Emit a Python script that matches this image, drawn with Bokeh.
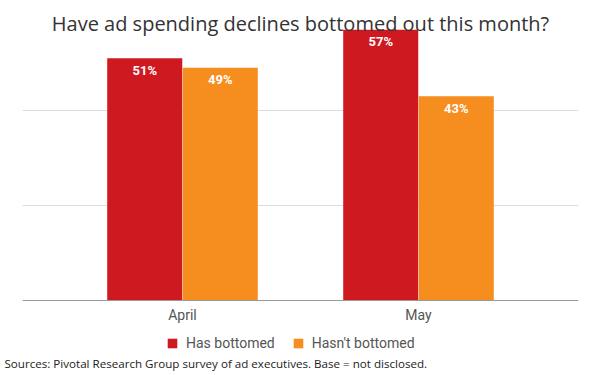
from bokeh.plotting import figure
from bokeh.models import ColumnDataSource, FactorRange, Range1d, FixedTicker, Title, Legend, LegendItem, Label
from bokeh.transform import dodge
from bokeh.core.properties import value
from bokeh.embed import file_html
from bokeh.resources import INLINE

months = ["April", "May"]
has_bottomed = [51, 57]
hasnt_bottomed = [49, 43]
series_names = ["Has bottomed", "Hasn't bottomed"]
colors = ["#cf1920", "#f58d1f"]
title_text = "Have ad spending declines bottomed out this month?"
source_text = "Sources: Pivotal Research Group survey of ad executives. Base = not disclosed."

src = ColumnDataSource(dict(
    month=months,
    has=has_bottomed,
    hasnt=hasnt_bottomed,
    has_lbl=[f"{v}%" for v in has_bottomed],
    hasnt_lbl=[f"{v}%" for v in hasnt_bottomed],
))

# frame: x 22..578, y 0..352 ; baseline (0) at y=300, 4.75 px per percent
p = figure(width=600, height=375, output_backend="svg", toolbar_location=None,
           x_range=FactorRange(factors=months, range_padding=0.178, range_padding_units="absolute"),
           y_range=Range1d(-10.95, 63.16),
           min_border_left=22, min_border_right=22, min_border_top=0, min_border_bottom=23)
p.outline_line_color = None
p.background_fill_color = "white"
p.border_fill_color = "white"

bw = 0.318
r1 = p.vbar(x=dodge("month", -0.16, range=p.x_range), top="has", width=bw, source=src,
            fill_color=colors[0], line_color=None)
r2 = p.vbar(x=dodge("month", 0.16, range=p.x_range), top="hasnt", width=bw, source=src,
            fill_color=colors[1], line_color=None)

p.text(x=dodge("month", -0.16, range=p.x_range), y="has", text="has_lbl", source=src,
       text_align="center", text_baseline="middle", y_offset=12, text_color="white",
       text_font=value("Roboto"), text_font_size="13px", text_font_style="bold")
p.text(x=dodge("month", 0.16, range=p.x_range), y="hasnt", text="hasnt_lbl", source=src,
       text_align="center", text_baseline="middle", y_offset=12, text_color="white",
       text_font=value("Roboto"), text_font_size="13px", text_font_style="bold")

p.xgrid.visible = False
p.ygrid.ticker = FixedTicker(ticks=[20, 40])
p.ygrid.grid_line_color = "#dddddd"
p.yaxis.visible = False

p.xaxis.fixed_location = 0
p.xaxis.axis_line_color = "#999999"
p.xaxis.major_tick_line_color = None
p.xaxis.minor_tick_line_color = None
p.xaxis.major_tick_out = 0
p.xaxis.major_label_text_font = "Roboto"
p.xaxis.major_label_text_font_size = "14px"
p.xaxis.major_label_text_color = "#555555"
p.xaxis.major_label_standoff = 7

p.add_layout(Label(x=278, y=329, x_units="screen", y_units="screen", text=title_text,
                   text_align="center", text_baseline="alphabetic", text_font="Open Sans",
                   text_font_size="20px", text_color="#333333"))

legend = Legend(items=[LegendItem(label=series_names[0], renderers=[r1]),
                       LegendItem(label=series_names[1], renderers=[r2])],
                location=(144, 1), orientation="horizontal",
                padding=0, margin=0, spacing=17, label_standoff=8,
                glyph_width=12, glyph_height=12,
                label_text_font="Roboto", label_text_font_size="14px",
                label_text_color="#555555",
                border_line_color=None, background_fill_alpha=0)
p.add_layout(legend, "center")

p.add_layout(Title(text=source_text, align="left", offset=-18, standoff=2,
                   text_font="Open Sans", text_font_size="11.6px",
                   text_font_style="normal", text_color="#222222"), "below")

open("out.html", "w").write(file_html(p, INLINE))
